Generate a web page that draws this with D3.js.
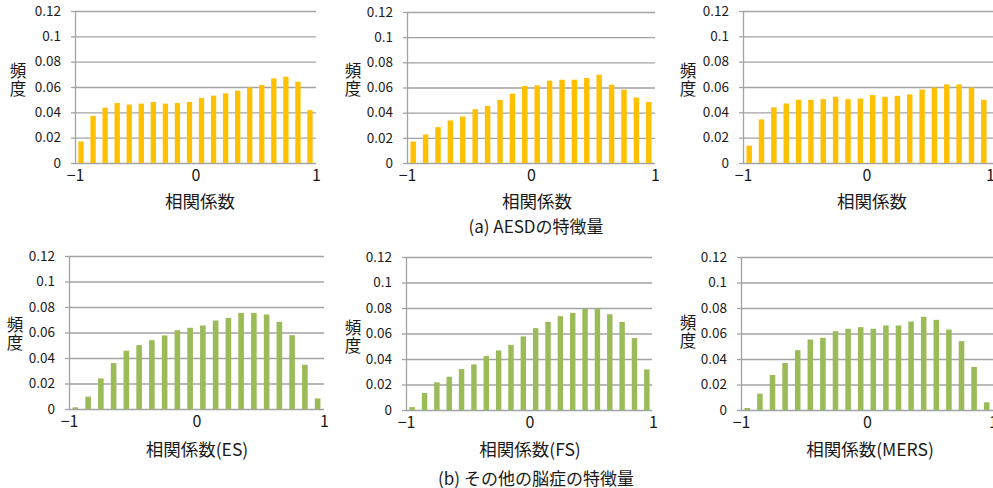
<!DOCTYPE html>
<html lang="ja">
<head>
<meta charset="utf-8">
<script src="https://cdn.jsdelivr.net/npm/d3@7"></script>
<style>
  html, body { margin: 0; padding: 0; background: #fff; }
  svg { display: block; }
  text { font-family: "Noto Sans CJK JP", "Noto Sans", sans-serif; fill: #1a1a1a; }
</style>
</head>
<body>
<svg id="chart" width="993" height="488"></svg>
<script>
// Histogram bins of the correlation coefficient (width 0.1 over [-1, 1])
const binCenters = [-0.95, -0.85, -0.75, -0.65, -0.55, -0.45, -0.35, -0.25, -0.15, -0.05,
                     0.05,  0.15,  0.25,  0.35,  0.45,  0.55,  0.65,  0.75,  0.85,  0.95];

// Frequencies – AESD features
const aesd1 = [0.0170, 0.0372, 0.0437, 0.0474, 0.0461, 0.0469, 0.0482, 0.0469, 0.0474, 0.0482,
               0.0513, 0.0532, 0.0550, 0.0571, 0.0597, 0.0616, 0.0668, 0.0681, 0.0642, 0.0417];
const aesd2 = [0.0171, 0.0227, 0.0285, 0.0338, 0.0369, 0.0427, 0.0454, 0.0501, 0.0551, 0.0612,
               0.0617, 0.0654, 0.0662, 0.0662, 0.0675, 0.0701, 0.0622, 0.0583, 0.0520, 0.0485];
const aesd3 = [0.0137, 0.0344, 0.0439, 0.0470, 0.0499, 0.0499, 0.0504, 0.0523, 0.0504, 0.0509,
               0.0536, 0.0523, 0.0530, 0.0541, 0.0580, 0.0596, 0.0620, 0.0620, 0.0596, 0.0499];

// Frequencies – other encephalopathy features
const esValues   = [0.0013, 0.0097, 0.0240, 0.0360, 0.0457, 0.0501, 0.0540, 0.0577, 0.0618, 0.0637,
                    0.0655, 0.0694, 0.0715, 0.0754, 0.0754, 0.0741, 0.0684, 0.0579, 0.0347, 0.0083];
const fsValues   = [0.0023, 0.0133, 0.0217, 0.0261, 0.0321, 0.0357, 0.0423, 0.0467, 0.0511, 0.0577,
                    0.0642, 0.0691, 0.0736, 0.0762, 0.0793, 0.0793, 0.0751, 0.0691, 0.0564, 0.0318];
const mersValues = [0.0016, 0.0128, 0.0275, 0.0369, 0.0469, 0.0553, 0.0566, 0.0618, 0.0637, 0.0650,
                    0.0637, 0.0663, 0.0663, 0.0694, 0.0731, 0.0707, 0.0631, 0.0540, 0.0338, 0.0060];

// Axis ticks and labels
const yTicks = [0, 0.02, 0.04, 0.06, 0.08, 0.1, 0.12];
const yTickLabels = ["0", "0.02", "0.04", "0.06", "0.08", "0.1", "0.12"];
const xTicks = [-1, 0, 1];
const xTickLabels = ["\u22121", "0", "1"];
const yTitle = "頻度";
const xTitles = ["相関係数", "相関係数", "相関係数", "相関係数(ES)", "相関係数(FS)", "相関係数(MERS)"];
const captions = ["(a) AESDの特徴量", "(b) その他の脳症の特徴量"];

const GOLD = "#FFC000";
const GREEN = "#9BBB59";
const GRID = "#a3a3a3";
const FONT = '"Noto Sans CJK JP", "Noto Sans", sans-serif';

// Panel geometry: x of -1 / +1, y of 0.12 / 0, centres of the axis titles
const panels = [
  { values: aesd1,      color: GOLD,  x0: 75,  x1: 316, yTop: 11,  yBot: 163, gridEnd: 316, xt: 0, tx: 200, ty: 200, lx: 18,  ly: 80 },
  { values: aesd2,      color: GOLD,  x0: 407, x1: 655, yTop: 12,  yBot: 163, gridEnd: 655, xt: 1, tx: 537, ty: 200, lx: 353, ly: 80 },
  { values: aesd3,      color: GOLD,  x0: 743, x1: 990, yTop: 11,  yBot: 163, gridEnd: 993, xt: 2, tx: 872, ty: 200, lx: 688, ly: 80 },
  { values: esValues,   color: GREEN, x0: 69,  x1: 324, yTop: 256, yBot: 409, gridEnd: 324, xt: 3, tx: 197, ty: 448, lx: 15,  ly: 334 },
  { values: fsValues,   color: GREEN, x0: 406, x1: 653, yTop: 257, yBot: 410, gridEnd: 652, xt: 4, tx: 530, ty: 448, lx: 353, ly: 337 },
  { values: mersValues, color: GREEN, x0: 741, x1: 993, yTop: 257, yBot: 410, gridEnd: 993, xt: 5, tx: 870, ty: 448, lx: 688, ly: 332 }
];

const svg = d3.select("#chart");

panels.forEach(p => {
  const x = d3.scaleLinear().domain([-1, 1]).range([p.x0, p.x1]);
  const y = d3.scaleLinear().domain([0, 0.12]).range([p.yBot, p.yTop]);
  const g = svg.append("g");

  // horizontal gridlines + left tick labels
  const yAxis = d3.axisLeft(y)
    .tickValues(yTicks)
    .tickFormat((d, i) => yTickLabels[i])
    .tickSizeInner(-(p.gridEnd - p.x0))
    .tickSizeOuter(0)
    .tickPadding(14);
  const ya = g.append("g").attr("transform", `translate(${p.x0},0)`).call(yAxis);
  ya.select(".domain").attr("stroke", GRID).attr("stroke-width", 1.3);
  ya.selectAll(".tick line").attr("stroke", GRID).attr("stroke-width", 1.3);
  ya.selectAll(".tick text").attr("font-size", 13.5).attr("fill", "#1a1a1a")
    .style("font-family", FONT);

  // short outward tick marks on the value axis
  const yTickMarks = d3.axisLeft(y).tickValues(yTicks).tickFormat("").tickSize(4);
  const ym = g.append("g").attr("transform", `translate(${p.x0},0)`).call(yTickMarks);
  ym.select(".domain").remove();
  ym.selectAll(".tick line").attr("stroke", GRID).attr("stroke-width", 1.3);

  // bars
  const binW = x(0.1) - x(0);
  const barW = binW * 0.44;
  g.append("g").selectAll("rect")
    .data(p.values)
    .join("rect")
    .attr("x", (d, i) => x(binCenters[i]) - barW / 2)
    .attr("y", d => y(d))
    .attr("width", barW)
    .attr("height", d => y(0) - y(d))
    .attr("fill", p.color);

  // category axis labels
  const xAxis = d3.axisBottom(x)
    .tickValues(xTicks)
    .tickFormat((d, i) => xTickLabels[i])
    .tickSize(0)
    .tickPadding(7);
  const xa = g.append("g").attr("transform", `translate(0,${p.yBot})`).call(xAxis);
  xa.select(".domain").remove();
  xa.selectAll(".tick text").attr("font-size", 16).attr("fill", "#1a1a1a")
    .style("font-family", FONT);

  // axis titles
  g.append("text")
    .attr("x", p.tx).attr("y", p.ty)
    .attr("text-anchor", "middle")
    .attr("dominant-baseline", "central")
    .attr("font-size", 17.5)
    .text(xTitles[p.xt]);

  // stacked vertical value-axis title
  g.append("text")
    .attr("x", p.lx)
    .attr("y", p.ly)
    .attr("text-anchor", "middle")
    .style("writing-mode", "vertical-rl")
    .style("letter-spacing", "1px")
    .attr("font-size", 16.5)
    .text(yTitle);
});

// sub-figure captions
svg.append("text").attr("x", 536).attr("y", 225)
  .attr("text-anchor", "middle").attr("dominant-baseline", "central")
  .attr("font-size", 17).text(captions[0]);
svg.append("text").attr("x", 536).attr("y", 477)
  .attr("text-anchor", "middle").attr("dominant-baseline", "central")
  .attr("font-size", 17).text(captions[1]);
</script>
</body>
</html>
